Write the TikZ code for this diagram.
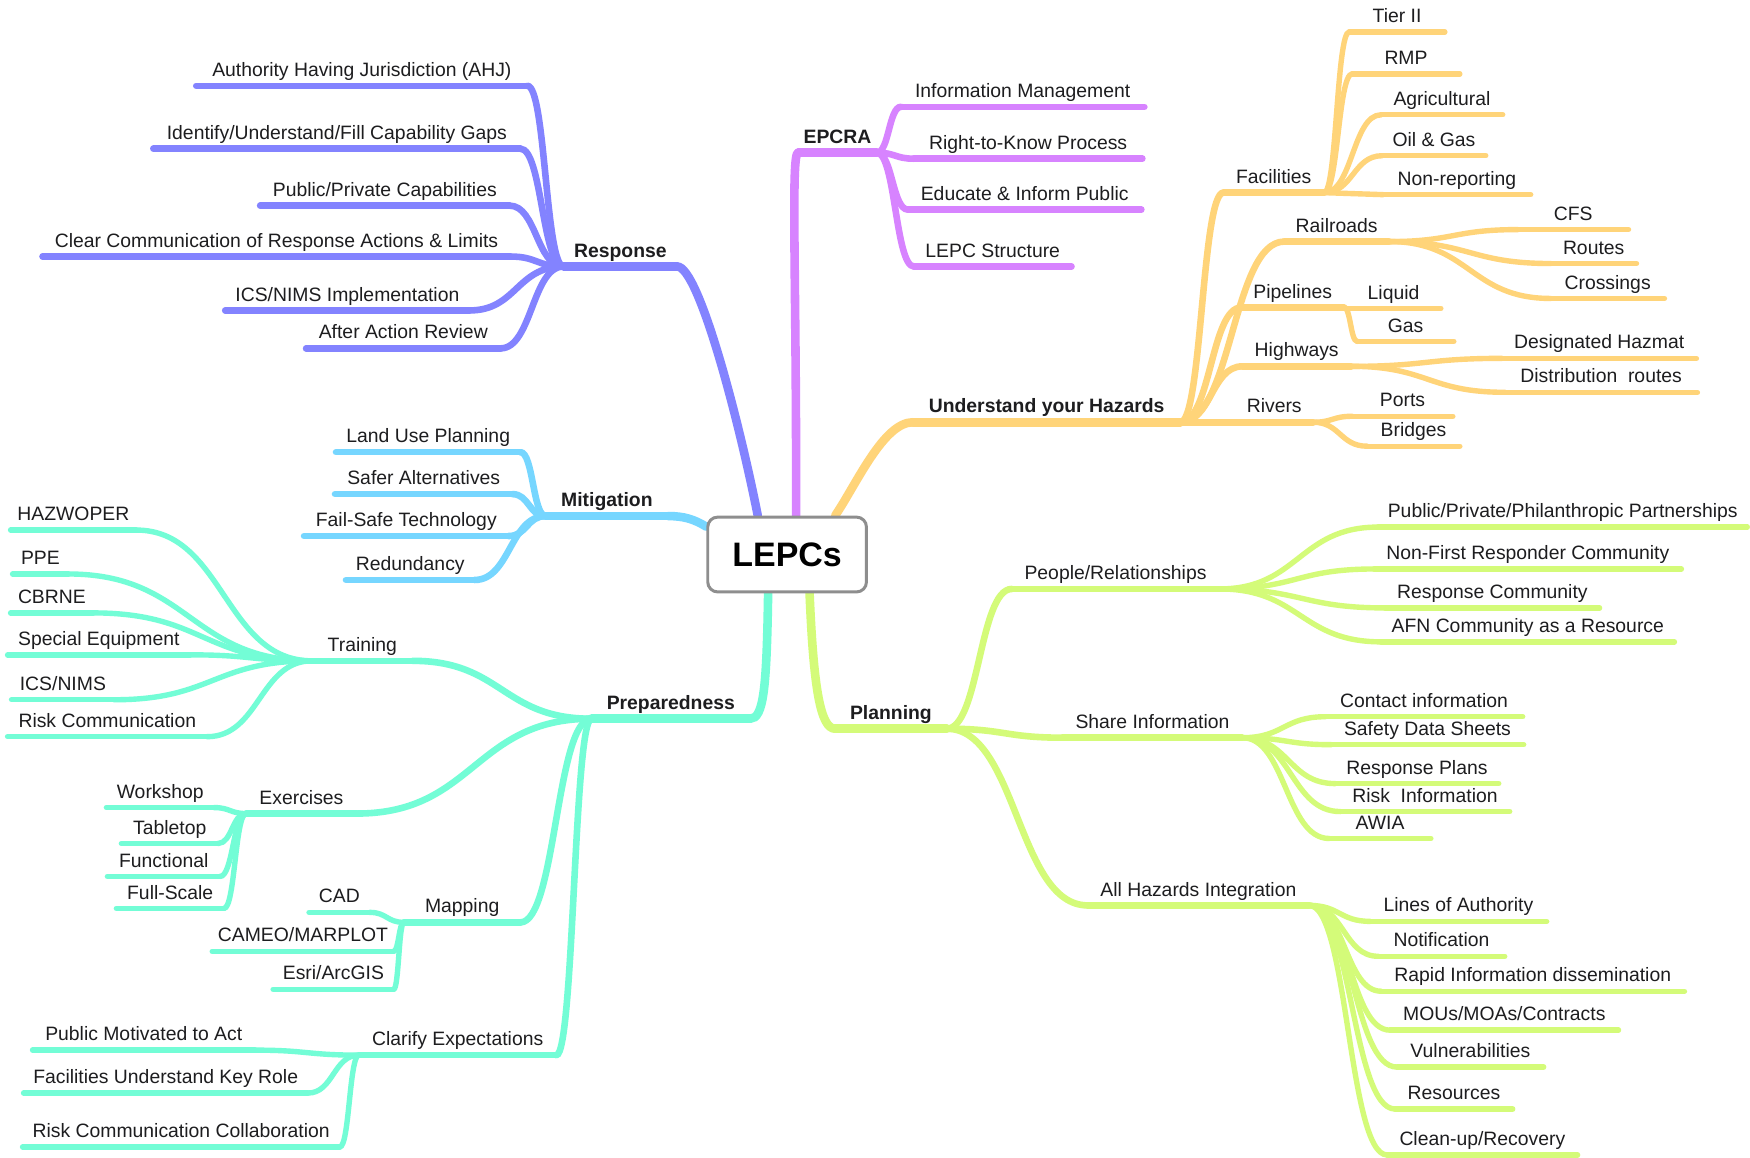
\documentclass[tikz,border=0pt]{standalone}
\usepackage{fontspec}
\setmainfont{Liberation Sans}
\usetikzlibrary{calc}
\definecolor{cResp}{HTML}{8383FF}
\definecolor{cEpc}{HTML}{D783FF}
\definecolor{cHaz}{HTML}{FFD479}
\definecolor{cMit}{HTML}{76D6FF}
\definecolor{cPrep}{HTML}{73FDD6}
\definecolor{cPlan}{HTML}{D4FB79}
\definecolor{txt}{HTML}{1D1D1F}
\definecolor{boxgray}{HTML}{8E8E8E}
\pgfdeclarelayer{back}
\pgfdeclarelayer{bg}
\pgfsetlayers{back,bg,main}
\newcommand\mmnode[6]{% style, name, left, right, y, text
  \node[mmtxt, minimum width={(#4-#3)*0.5pt}, anchor=south] (#2) at ({(#3+#4)/2},#5) {#6};
  \draw[#1] (#2.south west) -- (#2.south east);}
\newcommand\mmlink[3]{% style, from, to
  \draw[#1] (#2) .. controls ($(#2)!0.5!(#2-|#3)$) and ($(#3)!0.5!(#3-|#2)$) .. (#3);}
\begin{document}
\begin{tikzpicture}[x=0.5pt,y=-0.5pt,
  l1/.style={line width=4.3pt, line cap=round},
  l2/.style={line width=3.3pt, line cap=round},
  l3/.style={line width=2.7pt, line cap=round},
  mmtxt/.style={font=\fontsize{9.7pt}{11pt}\selectfont, text=txt, inner xsep=1pt, inner ysep=0pt, text depth=4.5pt},
  centerbox/.style={draw=boxgray, line width=1.5pt, rounded corners=5pt, fill=white,
    minimum width=79.5pt, minimum height=37.5pt, inner sep=0pt,
    font=\fontsize{17pt}{20pt}\selectfont\bfseries, text=black}]
\begin{pgfonlayer}{back}
\path[use as bounding box, fill=white] (0,0) rectangle (1750,1159);
\end{pgfonlayer}

\node[centerbox] (lepc) at (788.5,555.5) {LEPCs};

% level 1
\mmnode{l1,cResp}{resp}{565}{678}{267}{\bfseries Response}
\mmnode{l1,cEpc}{epc}{800}{878}{153}{\bfseries EPCRA}
\mmnode{l1,cHaz}{haz}{915}{1182}{423}{\bfseries Understand your Hazards}
\mmnode{l1,cMit}{mit}{547}{669}{517}{\bfseries Mitigation}
\mmnode{l1,cPrep}{prep}{593}{751}{720}{\bfseries Preparedness}
\mmnode{l1,cPlan}{plan}{837}{948}{730}{\bfseries Planning}

% Response
\mmnode{l2,cResp}{ahj}{197}{528}{86}{Authority Having Jurisdiction (AHJ)}
\mmnode{l2,cResp}{gaps}{154}{521}{149}{Identify/Understand/Fill Capability Gaps}
\mmnode{l2,cResp}{ppc}{261}{510}{206}{Public/Private Capabilities}
\mmnode{l2,cResp}{ccr}{43}{511}{257}{Clear Communication of Response Actions \& Limits}
\mmnode{l2,cResp}{icsi}{226}{470}{311}{ICS/NIMS Implementation}
\mmnode{l2,cResp}{aar}{307}{501}{349}{After Action Review}

% EPCRA
\mmnode{l2,cEpc}{im}{903}{1146}{107}{Information Management}
\mmnode{l2,cEpc}{rtk}{916}{1144}{159}{Right-to-Know Process}
\mmnode{l2,cEpc}{eip}{910}{1143}{210}{Educate \& Inform Public}
\mmnode{l2,cEpc}{lps}{916}{1073}{267}{LEPC Structure}

% Hazards
\mmnode{l2,cHaz}{fac}{1226}{1326}{193}{Facilities}
\mmnode{l2,cHaz}{rail}{1287}{1391}{242}{Railroads}
\mmnode{l2,cHaz}{pipe}{1244}{1346}{308}{Pipelines}
\mmnode{l2,cHaz}{hwy}{1245}{1353}{367}{Highways}
\mmnode{l2,cHaz}{riv}{1238}{1315}{423}{Rivers}
\mmnode{l3,cHaz}{tier}{1352}{1447}{32}{Tier II}
\mmnode{l3,cHaz}{rmp}{1355}{1462}{74}{RMP}
\mmnode{l3,cHaz}{agr}{1384}{1505}{115}{Agricultural}
\mmnode{l3,cHaz}{oil}{1385}{1488}{156}{Oil \& Gas}
\mmnode{l3,cHaz}{nonr}{1386}{1533}{195}{Non-reporting}
\mmnode{l3,cHaz}{cfs}{1521}{1631}{230}{CFS}
\mmnode{l3,cHaz}{rts}{1554}{1639}{264}{Routes}
\mmnode{l3,cHaz}{crs}{1554}{1667}{299}{Crossings}
\mmnode{l3,cHaz}{liq}{1349}{1443}{309}{Liquid}
\mmnode{l3,cHaz}{gas}{1360}{1456}{342}{Gas}
\mmnode{l3,cHaz}{dhz}{1505}{1699}{359}{Designated Hazmat}
\mmnode{l3,cHaz}{drt}{1508}{1700}{393}{Distribution\ \ routes}
\mmnode{l3,cHaz}{prt}{1355}{1455}{417}{Ports}
\mmnode{l3,cHaz}{brd}{1370}{1462}{447}{Bridges}

% Mitigation
\mmnode{l2,cMit}{lup}{337}{521}{453}{Land Use Planning}
\mmnode{l2,cMit}{saf}{336}{513}{495}{Safer Alternatives}
\mmnode{l2,cMit}{fst}{305}{509}{537}{Fail-Safe Technology}
\mmnode{l2,cMit}{red}{347}{475}{581}{Redundancy}

% Preparedness
\mmnode{l2,cPrep}{trn}{313}{413}{662}{Training}
\mmnode{l2,cPrep}{exr}{247}{357}{815}{Exercises}
\mmnode{l2,cPrep}{map}{405}{521}{924}{Mapping}
\mmnode{l2,cPrep}{clr}{360}{557}{1057}{Clarify Expectations}
\mmnode{l3,cPrep}{hzw}{11}{136}{531}{HAZWOPER}
\mmnode{l3,cPrep}{ppe}{13}{68}{575}{PPE}
\mmnode{l3,cPrep}{cbr}{11}{93}{614}{CBRNE}
\mmnode{l3,cPrep}{spe}{8}{190}{656}{Special Equipment}
\mmnode{l3,cPrep}{icsn}{12}{114}{701}{ICS/NIMS}
\mmnode{l3,cPrep}{rsk}{8}{207}{738}{Risk Communication}
\mmnode{l3,cPrep}{wks}{107}{214}{809}{Workshop}
\mmnode{l3,cPrep}{tbl}{122}{218}{845}{Tabletop}
\mmnode{l3,cPrep}{fnc}{108}{220}{878}{Functional}
\mmnode{l3,cPrep}{fsc}{117}{224}{910}{Full-Scale}
\mmnode{l3,cPrep}{cad}{310}{370}{914}{CAD}
\mmnode{l3,cPrep}{cam}{213}{394}{953}{CAMEO/MARPLOT}
\mmnode{l3,cPrep}{esr}{274}{394}{991}{Esri/ArcGIS}
\mmnode{l3,cPrep}{pma}{33}{255}{1052}{Public Motivated to Act}
\mmnode{l3,cPrep}{fuk}{24}{308}{1095}{Facilities Understand Key Role}
\mmnode{l3,cPrep}{rcc}{23}{340}{1149}{Risk Communication Collaboration}

% Planning
\mmnode{l2,cPlan}{ppl}{1014}{1221}{590}{People/Relationships}
\mmnode{l2,cPlan}{shr}{1065}{1244}{739}{Share Information}
\mmnode{l2,cPlan}{ahi}{1090}{1311}{907}{All Hazards Integration}
\mmnode{l3,cPlan}{pppp}{1381}{1750}{528}{Public/Private/Philanthropic Partnerships}
\mmnode{l3,cPlan}{nfr}{1377}{1684}{570}{Non-First Responder Community}
\mmnode{l3,cPlan}{rcm}{1388}{1602}{609}{Response Community}
\mmnode{l3,cPlan}{afn}{1384}{1677}{643}{AFN Community as a Resource}
\mmnode{l3,cPlan}{cnt}{1328}{1525}{718}{Contact information}
\mmnode{l3,cPlan}{sds}{1334}{1526}{746}{Safety Data Sheets}
\mmnode{l3,cPlan}{rpl}{1338}{1501}{785}{Response Plans}
\mmnode{l3,cPlan}{rin}{1343}{1512}{813}{Risk\ \ Information}
\mmnode{l3,cPlan}{awi}{1332}{1433}{840}{AWIA}
\mmnode{l3,cPlan}{loa}{1373}{1549}{923}{Lines of Authority}
\mmnode{l3,cPlan}{ntf}{1381}{1507}{958}{Notification}
\mmnode{l3,cPlan}{rid}{1384}{1687}{993}{Rapid Information dissemination}
\mmnode{l3,cPlan}{mou}{1393}{1621}{1032}{MOUs/MOAs/Contracts}
\mmnode{l3,cPlan}{vul}{1400}{1546}{1069}{Vulnerabilities}
\mmnode{l3,cPlan}{res}{1398}{1515}{1111}{Resources}
\mmnode{l3,cPlan}{cln}{1390}{1580}{1157}{Clean-up/Recovery}

\begin{pgfonlayer}{bg}
% main branches
\draw[l1,cResp] (lepc.127) .. controls (740,420) and (700,267) .. (resp.south east);
\draw[l1,cEpc] (lepc.77) .. controls (798,280) and (792,153) .. (epc.south west);
\draw[l1,cHaz] (lepc.39) .. controls (858,485) and (885,423) .. (haz.south west);
\draw[l1,cMit] (lepc.161) .. controls (695,520) and (685,517) .. (mit.south east);
\draw[l1,cPrep] (lepc.-116) .. controls (768,690) and (765,720) .. (prep.south east);
\draw[l1,cPlan] (lepc.-60) .. controls (815,690) and (822,730) .. (plan.south west);
% level 2 links
\foreach \nn in {ahj,gaps,ppc,ccr,icsi,aar} {\mmlink{l2,cResp}{resp.south west}{\nn.south east}}
\foreach \nn in {im,rtk,eip,lps} {\mmlink{l2,cEpc}{epc.south east}{\nn.south west}}
\foreach \nn in {fac,rail,pipe,hwy,riv} {\mmlink{l2,cHaz}{haz.south east}{\nn.south west}}
\foreach \nn in {lup,saf,fst,red} {\mmlink{l2,cMit}{mit.south west}{\nn.south east}}
\foreach \nn in {trn,exr,map,clr} {\mmlink{l2,cPrep}{prep.south west}{\nn.south east}}
\foreach \nn in {ppl,shr,ahi} {\mmlink{l2,cPlan}{plan.south east}{\nn.south west}}
% level 3 links
\foreach \nn in {tier,rmp,agr,oil,nonr} {\mmlink{l3,cHaz}{fac.south east}{\nn.south west}}
\foreach \nn in {cfs,rts,crs} {\mmlink{l3,cHaz}{rail.south east}{\nn.south west}}
\foreach \nn in {liq,gas} {\mmlink{l3,cHaz}{pipe.south east}{\nn.south west}}
\foreach \nn in {dhz,drt} {\mmlink{l3,cHaz}{hwy.south east}{\nn.south west}}
\foreach \nn in {prt,brd} {\mmlink{l3,cHaz}{riv.south east}{\nn.south west}}
\foreach \nn in {hzw,ppe,cbr,spe,icsn,rsk} {\mmlink{l3,cPrep}{trn.south west}{\nn.south east}}
\foreach \nn in {wks,tbl,fnc,fsc} {\mmlink{l3,cPrep}{exr.south west}{\nn.south east}}
\foreach \nn in {cad,cam,esr} {\mmlink{l3,cPrep}{map.south west}{\nn.south east}}
\foreach \nn in {pma,fuk,rcc} {\mmlink{l3,cPrep}{clr.south west}{\nn.south east}}
\foreach \nn in {pppp,nfr,rcm,afn} {\mmlink{l3,cPlan}{ppl.south east}{\nn.south west}}
\foreach \nn in {cnt,sds,rpl,rin,awi} {\mmlink{l3,cPlan}{shr.south east}{\nn.south west}}
\foreach \nn in {loa,ntf,rid,mou,vul,res,cln} {\mmlink{l3,cPlan}{ahi.south east}{\nn.south west}}
\end{pgfonlayer}
\end{tikzpicture}
\end{document}
